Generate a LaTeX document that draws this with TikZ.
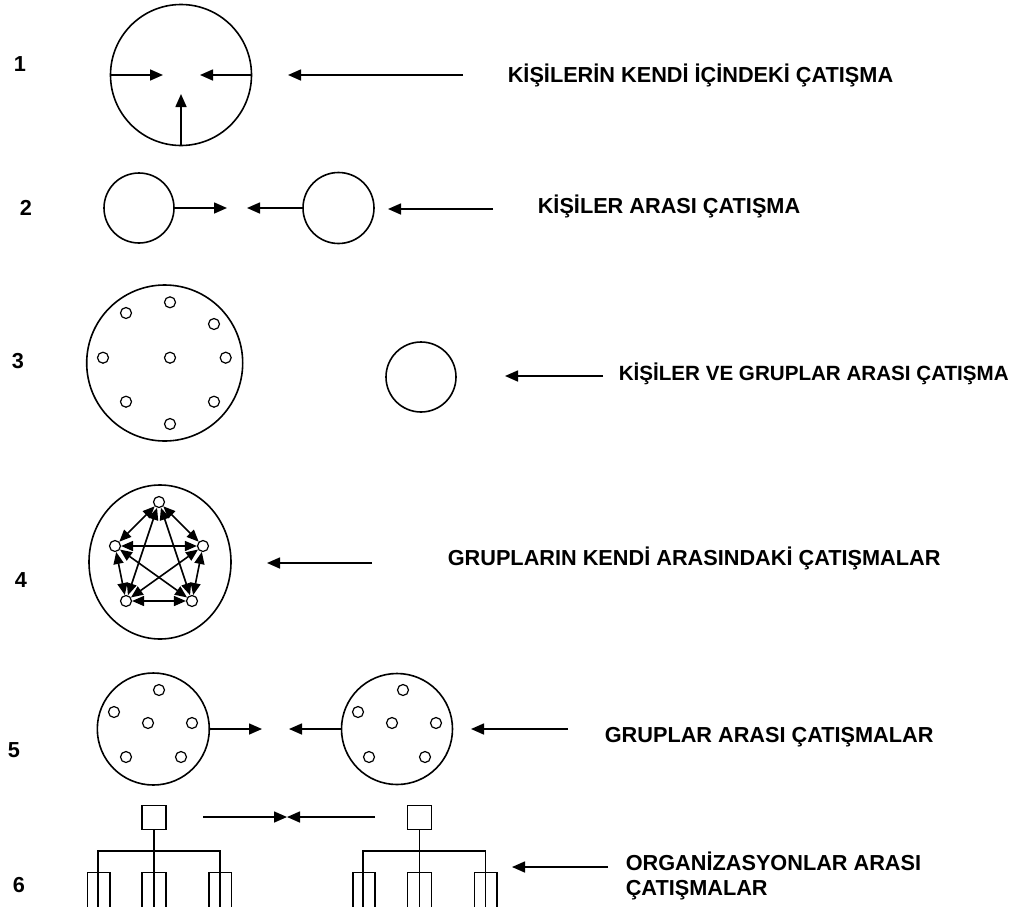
\documentclass[tikz,border=0pt]{standalone}
\usepackage{fontspec}
\setmainfont{Liberation Sans}
\usetikzlibrary{arrows.meta}
\begin{document}
\begin{tikzpicture}[x=1pt,y=-1pt,line width=1.6pt,
  arr/.style={-{Triangle[length=13pt,width=11pt]}},
  darr/.style={{Triangle[length=12pt,width=10pt]}-{Triangle[length=12pt,width=10pt]}},
  circ/.style={circle,draw,inner sep=0pt,minimum size=#1},
  dot/.style={circle,draw,inner sep=0pt,minimum size=11pt,line width=1.2pt},
  box/.style={draw,inner sep=0pt,minimum size=24pt},
  lbl/.style={font=\fontsize{21.7}{25}\selectfont\bfseries,anchor=base west,inner sep=0pt,align=left},
  num/.style={font=\fontsize{21.7}{25}\selectfont\bfseries,anchor=base,inner sep=0pt}]
\useasboundingbox (0,0) rectangle (1019,913);

% numbers
\node[num] (n1) at (20,71.7) {1};
\node[num] (n2) at (26,215) {2};
\node[num] (n3) at (18,368) {3};
\node[num] (n4) at (21,587) {4};
\node[num] (n5) at (14,757) {5};
\node[num] (n6) at (19,892) {6};

% labels
\node[lbl] (l1) at (507,82.7) {KİŞİLERİN KENDİ İÇİNDEKİ ÇATIŞMA};
\node[lbl] (l2) at (537,213) {KİŞİLER ARASI ÇATIŞMA};
\node[lbl,font=\fontsize{20.6}{24}\selectfont\bfseries] (l3) at (618,380) {KİŞİLER VE GRUPLAR ARASI ÇATIŞMA};
\node[lbl] (l4) at (447,565) {GRUPLARIN KENDİ ARASINDAKİ ÇATIŞMALAR};
\node[lbl] (l5) at (604,742) {GRUPLAR ARASI ÇATIŞMALAR};
\node[lbl] (l6) at (625,870) {ORGANİZASYONLAR ARASI};
\node[lbl] (l6b) at (625,895) {ÇATIŞMALAR};

% label arrows
\coordinate (a1s) at (463,75);  \coordinate (a1e) at (288,75);
\coordinate (a2s) at (493,209); \coordinate (a2e) at (388,209);
\coordinate (a3s) at (603,376); \coordinate (a3e) at (505,376);
\coordinate (a4s) at (372,563); \coordinate (a4e) at (267,563);
\coordinate (a5s) at (568,729); \coordinate (a5e) at (471,729);
\coordinate (a6s) at (608,867); \coordinate (a6e) at (512,867);
\foreach \i in {1,...,6} {\draw[arr] (a\i s) -- (a\i e);}

% row 1
\node[circ=141pt] (c1) at (181,75) {};
\coordinate (c1l) at (163,75);
\coordinate (c1r) at (200,75);
\coordinate (c1b) at (181,94);
\draw[arr] (c1.west) -- (c1l);
\draw[arr] (c1.east) -- (c1r);
\draw[arr] (c1.south) -- (c1b);

% row 2
\node[circ=70pt] (c2a) at (139,208) {};
\node[circ=71pt] (c2b) at (338.5,208) {};
\coordinate (m2a) at (227,208);
\coordinate (m2b) at (247,208);
\draw[arr] (c2a.east) -- (m2a);
\draw[arr] (c2b.west) -- (m2b);

% row 3
\node[circ=156pt] (c3) at (164.7,363) {};
\foreach \n/\x/\y in {a/170/302.3,b/126/313,c/214/324,d/103/357.7,e/170/357.7,f/225.7/357.7,g/126/401.7,h/214/401.7,i/170/424}
  \node[dot] (d3\n) at (\x,\y) {};
\node[circ=70pt] (c3b) at (421,377) {};

% row 4
\draw (160,562) ellipse [x radius=71, y radius=77];
\node[dot] (pT) at (159,502) {};
\node[dot] (pL) at (115,546) {};
\node[dot] (pR) at (203,546) {};
\node[dot] (pA) at (126,601) {};
\node[dot] (pB) at (192,601) {};
\foreach \u/\v in {pT/pL,pT/pR,pL/pR,pA/pB,pL/pA,pR/pB,pT/pA,pT/pB,pL/pB,pR/pA}
  \draw[darr] (\u) -- (\v);

% row 5
\node[circ=112pt] (c5a) at (153.3,729) {};
\node[circ=111pt] (c5b) at (397,729) {};
\foreach \n/\x/\y in {a/159/690,b/114/712,c/148/723,d/192/723,e/126/757,f/181/757}
  \node[dot] (d5\n) at (\x,\y) {};
\foreach \n/\x/\y in {a/403/690,b/358/712,c/392/723,d/436/723,e/369/757,f/425/757}
  \node[dot] (e5\n) at (\x,\y) {};
\coordinate (m5a) at (262,729);
\coordinate (m5b) at (289,729);
\draw[arr] (c5a.east) -- (m5a);
\draw[arr] (c5b.west) -- (m5b);

% row 6
\foreach \cx/\nm in {154/L,419.5/R} {
  \begin{scope}[shift={(\cx,0)}]
    \node[box] (sq\nm) at (0,817.5) {};
    \draw (sq\nm.south) -- (0,906.7);
    \draw (-56.3,906.7) -- (-56.3,850.7) -- (66,850.7) -- (66,906.7);
    \foreach \a/\b in {-66.7/-44.3,-12/12,55/77.5} {
      \draw (\a,906.7) -- (\a,872.3) -- (\b,872.3) -- (\b,906.7);
    }
  \end{scope}
}
\coordinate (t6a) at (203,817);
\coordinate (t6b) at (375,817);
\coordinate (t6m) at (287,817);
\draw[arr] (t6a) -- (t6m);
\draw[arr] (t6b) -- (t6m);
\end{tikzpicture}
\end{document}
